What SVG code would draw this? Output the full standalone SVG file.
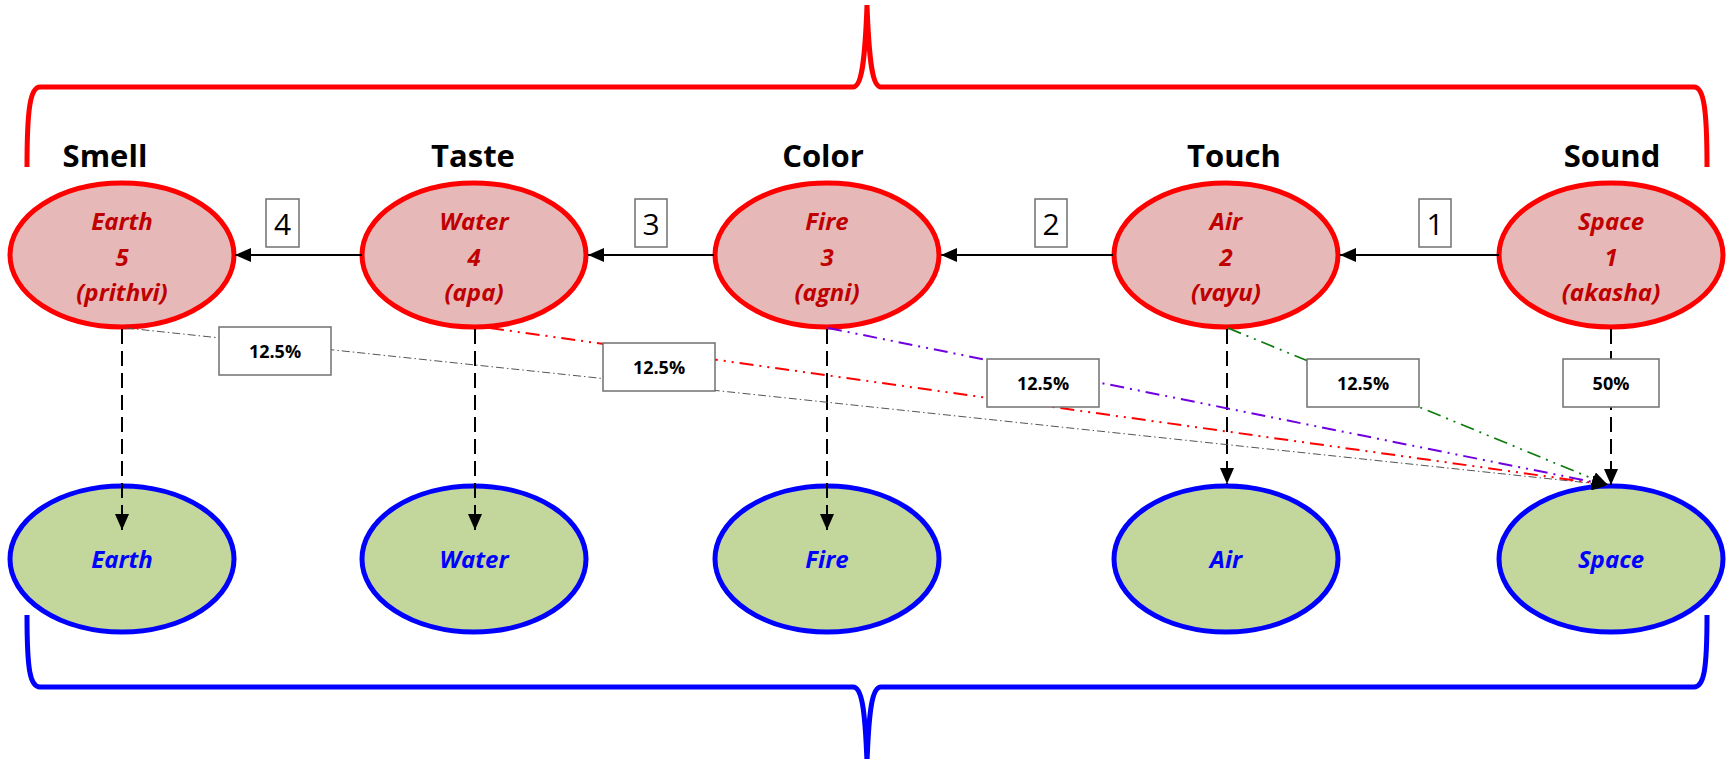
<svg xmlns="http://www.w3.org/2000/svg" width="1732" height="759" viewBox="0 0 1732 759">
<style>
.hdr{font-family:"Open Sans","Liberation Sans",sans-serif;font-weight:bold;font-size:31px;fill:#000;text-anchor:middle}
.num{font-family:"Open Sans","Liberation Sans",sans-serif;font-size:30px;fill:#000;text-anchor:middle}
.red{fill:#E6B9B8;stroke:#FF0000;stroke-width:5}
.grn{fill:#C3D69B;stroke:#0000FF;stroke-width:5}
.rt{font-family:"Open Sans","Liberation Sans",sans-serif;font-weight:bold;font-style:italic;font-size:24px;fill:#C00000;text-anchor:middle}
.bt{font-family:"Open Sans","Liberation Sans",sans-serif;font-weight:bold;font-style:italic;font-size:24px;fill:#0000FF;text-anchor:middle}
.box{fill:#fff;stroke:#707070;stroke-width:1.5}
.pct{font-family:"Open Sans","Liberation Sans",sans-serif;font-weight:bold;font-size:18px;fill:#000;text-anchor:middle}
.h{stroke:#000;stroke-width:2;fill:none;marker-end:url(#ah)}
.v{stroke:#000;stroke-width:2;fill:none;stroke-dasharray:15 7;marker-end:url(#ah)}
.brace{fill:none;stroke-width:5}
</style>
<defs>
<marker id="ah" markerUnits="userSpaceOnUse" markerWidth="16" markerHeight="14" viewBox="0 0 16 14" refX="16" refY="7" orient="auto">
<path d="M0,0 L16,7 L0,14 z" fill="#000"/>
</marker>
</defs>
<rect width="1732" height="759" fill="#fff"/>

<g id="braces">
<path class="brace" stroke="#FF0000" d="M27,167 C27,110 30,87 40,87 L853,87 C862,87 865,60 867,5 C869,60 872,87 881,87 L1694,87 C1704,87 1707,110 1707,167"/>
<path class="brace" stroke="#0000FF" d="M27,615 C27,670 30,687 40,687 L853,687 C862,687 865,710 867,762 C869,710 872,687 881,687 L1694,687 C1704,687 1707,670 1707,615"/>
</g>

<g id="headers">
<text class="hdr" x="105" y="167">Smell</text>
<text class="hdr" x="473" y="167">Taste</text>
<text class="hdr" x="823" y="167">Color</text>
<text class="hdr" x="1234" y="167">Touch</text>
<text class="hdr" x="1612" y="167">Sound</text>
</g>

<g id="node-earth-tanmatra">
<ellipse class="red" cx="122" cy="255" rx="112" ry="72"/>
<text class="rt" x="122" y="230">Earth</text><text class="rt" x="122" y="266">5</text><text class="rt" x="122" y="301">(prithvi)</text>
</g>
<g id="node-water-tanmatra">
<ellipse class="red" cx="474" cy="255" rx="112" ry="72"/>
<text class="rt" x="474" y="230">Water</text><text class="rt" x="474" y="266">4</text><text class="rt" x="474" y="301">(apa)</text>
</g>
<g id="node-fire-tanmatra">
<ellipse class="red" cx="827" cy="255" rx="112" ry="72"/>
<text class="rt" x="827" y="230">Fire</text><text class="rt" x="827" y="266">3</text><text class="rt" x="827" y="301">(agni)</text>
</g>
<g id="node-air-tanmatra">
<ellipse class="red" cx="1226" cy="255" rx="112" ry="72"/>
<text class="rt" x="1226" y="230">Air</text><text class="rt" x="1226" y="266">2</text><text class="rt" x="1226" y="301">(vayu)</text>
</g>
<g id="node-space-tanmatra">
<ellipse class="red" cx="1611" cy="255" rx="112" ry="72"/>
<text class="rt" x="1611" y="230">Space</text><text class="rt" x="1611" y="266">1</text><text class="rt" x="1611" y="301">(akasha)</text>
</g>

<g id="node-earth">
<ellipse class="grn" cx="122" cy="559" rx="112" ry="73"/>
<text class="bt" x="122" y="568">Earth</text>
</g>
<g id="node-water">
<ellipse class="grn" cx="474" cy="559" rx="112" ry="73"/>
<text class="bt" x="474" y="568">Water</text>
</g>
<g id="node-fire">
<ellipse class="grn" cx="827" cy="559" rx="112" ry="73"/>
<text class="bt" x="827" y="568">Fire</text>
</g>
<g id="node-air">
<ellipse class="grn" cx="1226" cy="559" rx="112" ry="73"/>
<text class="bt" x="1226" y="568">Air</text>
</g>
<g id="node-space">
<ellipse class="grn" cx="1611" cy="559" rx="112" ry="73"/>
<text class="bt" x="1611" y="568">Space</text>
</g>

<g id="connectors">
<line class="h" x1="362" y1="255" x2="235" y2="255"/>
<line class="h" x1="714" y1="255" x2="588" y2="255"/>
<line class="h" x1="1113" y1="255" x2="941" y2="255"/>
<line class="h" x1="1499" y1="255" x2="1340" y2="255"/>

<line class="v" x1="122" y1="329" x2="122" y2="530"/>
<line class="v" x1="475" y1="329" x2="475" y2="530"/>
<line class="v" x1="827" y1="329" x2="827" y2="530"/>
<line class="v" x1="1227" y1="329" x2="1227" y2="484"/>
<line class="v" x1="1611" y1="329" x2="1611" y2="485"/>

<line x1="126" y1="328" x2="1608" y2="485" stroke="#555" stroke-width="1" stroke-dasharray="8 3 1.5 3" marker-end="url(#ah)"/>
<line x1="490" y1="328" x2="1608" y2="485" stroke="#FF0000" stroke-width="2" stroke-dasharray="14 6 2 6 2 6" marker-end="url(#ah)"/>
<line x1="828" y1="328" x2="1608" y2="485" stroke="#7000E0" stroke-width="2" stroke-dasharray="14 6 2 6 2 6" marker-end="url(#ah)"/>
<line x1="1228" y1="328" x2="1608" y2="485" stroke="#0B7A0B" stroke-width="1.7" stroke-dasharray="14 6 2 6 2 6" marker-end="url(#ah)"/>

<g id="step-labels">
<rect class="box" x="266" y="199" width="33" height="48"/><text class="num" x="282.5" y="235">4</text>
<rect class="box" x="635" y="199" width="32" height="48"/><text class="num" x="651" y="235">3</text>
<rect class="box" x="1035" y="199" width="32" height="48"/><text class="num" x="1051" y="235">2</text>
<rect class="box" x="1419" y="199" width="32" height="48"/><text class="num" x="1435" y="235">1</text>
</g>
<g id="pct-labels">
<rect class="box" x="219" y="327" width="112" height="48"/><text class="pct" x="275" y="358">12.5%</text>
<rect class="box" x="603" y="343" width="112" height="48"/><text class="pct" x="659" y="374">12.5%</text>
<rect class="box" x="987" y="359" width="112" height="48"/><text class="pct" x="1043" y="390">12.5%</text>
<rect class="box" x="1307" y="359" width="112" height="48"/><text class="pct" x="1363" y="390">12.5%</text>
<rect class="box" x="1563" y="359" width="96" height="48"/><text class="pct" x="1611" y="390">50%</text>
</g>
</g>
</svg>
